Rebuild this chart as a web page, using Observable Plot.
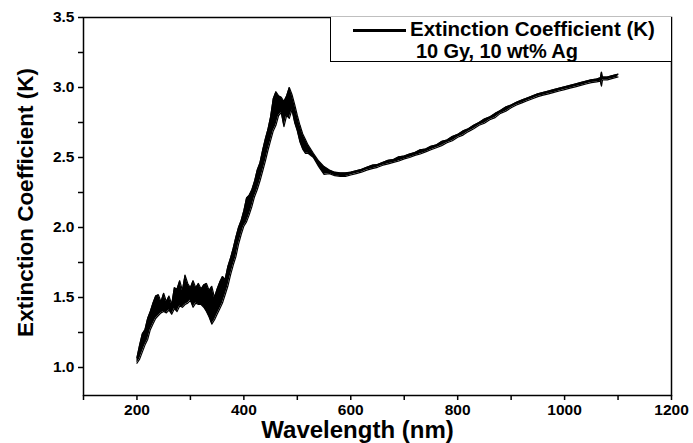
<!DOCTYPE html>
<html><head><meta charset="utf-8">
<script src="https://cdn.jsdelivr.net/npm/d3@7"></script>
<script src="https://cdn.jsdelivr.net/npm/@observablehq/plot@0.6"></script>
<style>
body{margin:0;background:#fff;font-family:"Liberation Sans",Arial,sans-serif}
#wrap{position:relative;width:693px;height:443px}
#legend{position:absolute;left:330px;top:17px;width:341px;height:45px;border-left:1px solid #000;border-bottom:1px solid #000;box-sizing:border-box;background:#fff;font-weight:bold;color:#000}
#legend .sw{position:absolute;left:22px;top:12px;width:53px;height:2.5px;background:#000}
#legend .t1{position:absolute;left:79px;top:0px;font-size:20.5px;white-space:nowrap;letter-spacing:0px}
#legend .t2{position:absolute;left:85px;top:23px;font-size:20px;white-space:nowrap;letter-spacing:-0.1px}
</style></head>
<body><div id="wrap"></div>
<script>
const seriesLabel = "Extinction Coefficient (K)";
const seriesNote = "10 Gy, 10 wt% Ag";
const xLabel = "Wavelength (nm)";
const yLabel = "Extinction Coefficient (K)";
const xTicks = [100,200,300,400,500,600,700,800,900,1000,1100,1200];
const yTicks = [1.0,1.25,1.5,1.75,2.0,2.25,2.5,2.75,3.0,3.25,3.5];

const wavelength = [200,205,210,215,220,225,230,235,240,245,250,255,260,265,270,275,280,285,290,295,
300,305,310,315,320,325,330,335,340,345,350,355,360,365,370,375,380,385,390,395,
400,405,410,415,420,425,430,435,440,445,450,455,460,465,470,475,480,485,490,495,
500,505,510,515,520,530,540,550,560,570,580,590,600,610,620,630,640,650,660,670,
680,690,700,710,720,730,740,750,760,770,780,790,800,810,820,830,840,850,860,870,
880,890,900,910,920,930,940,950,960,970,980,990,1000,1010,1020,1030,1040,1050,1060,1067,
1069,1071,1080,1090,1100];
const kUpper = [1.07,1.16,1.24,1.27,1.35,1.40,1.46,1.51,1.52,1.47,1.53,1.47,1.51,1.45,1.57,1.56,1.62,1.55,1.66,1.60,
1.57,1.62,1.57,1.60,1.56,1.59,1.60,1.55,1.58,1.50,1.56,1.61,1.65,1.63,1.72,1.78,1.85,1.93,2.00,2.05,
2.12,2.21,2.23,2.27,2.33,2.41,2.46,2.55,2.63,2.70,2.79,2.92,2.97,2.94,2.93,2.90,2.94,3.00,2.95,2.88,
2.80,2.73,2.67,2.63,2.59,2.53,2.475,2.435,2.41,2.395,2.39,2.39,2.395,2.405,2.415,2.43,2.445,2.45,2.465,2.48,
2.485,2.505,2.51,2.525,2.535,2.555,2.56,2.58,2.59,2.615,2.625,2.65,2.665,2.69,2.705,2.73,2.75,2.775,2.79,2.815,
2.835,2.86,2.875,2.895,2.91,2.925,2.94,2.955,2.965,2.975,2.985,2.995,3.005,3.015,3.025,3.035,3.045,3.055,3.06,3.07,
3.11,3.075,3.075,3.085,3.095];
const kLower = [1.03,1.06,1.11,1.16,1.20,1.27,1.31,1.35,1.37,1.39,1.40,1.39,1.41,1.38,1.42,1.40,1.44,1.43,1.45,1.46,
1.48,1.43,1.46,1.45,1.45,1.43,1.40,1.36,1.31,1.34,1.38,1.42,1.46,1.52,1.58,1.66,1.73,1.79,1.88,1.95,
2.01,2.04,2.09,2.15,2.22,2.27,2.33,2.40,2.47,2.55,2.62,2.69,2.73,2.80,2.82,2.72,2.80,2.78,2.84,2.75,
2.69,2.61,2.56,2.53,2.53,2.50,2.435,2.38,2.385,2.37,2.365,2.365,2.375,2.385,2.395,2.41,2.42,2.43,2.445,2.455,
2.465,2.475,2.49,2.50,2.515,2.525,2.54,2.555,2.57,2.585,2.605,2.62,2.645,2.66,2.685,2.705,2.73,2.745,2.77,2.785,
2.815,2.83,2.855,2.875,2.89,2.905,2.92,2.935,2.945,2.955,2.965,2.975,2.985,2.995,3.005,3.015,3.025,3.035,3.04,3.045,
3.01,3.055,3.055,3.065,3.075];

const table = wavelength.map((w,i)=>({w, lo:kLower[i], hi:kUpper[i]}));
const font = "Liberation Sans, Arial, sans-serif";

const chart = Plot.plot({
  width: 693, height: 443,
  marginTop: 17, marginBottom: 48, marginLeft: 83, marginRight: 22,
  style: {fontFamily: font, background: "#fff", color: "#000"},
  x: {domain: [100, 1200]},
  y: {domain: [0.8, 3.5]},
  marks: [
    Plot.areaY(table, {x: "w", y1: "lo", y2: "hi", fill: "#000", curve: "linear"}),
    Plot.line(table, {x: "w", y: "hi", stroke: "#000", strokeWidth: 1.2}),
    Plot.line(table, {x: "w", y: "lo", stroke: "#000", strokeWidth: 1.2}),
    Plot.frame({stroke: "#000", strokeWidth: 1.5}),
    Plot.axisX({ticks: xTicks, tickSize: 5, tickPadding: 3, tickFormat: d => d % 200 === 0 ? String(d) : "",
      fontSize: 15.5, fontWeight: "bold", label: null, strokeWidth: 1.5}),
    Plot.axisY({ticks: yTicks, tickSize: 5, tickPadding: 4, tickFormat: d => (d * 2) % 1 === 0 ? d.toFixed(1) : "",
      fontSize: 15.5, fontWeight: "bold", label: null, strokeWidth: 1.5}),
    Plot.text([yLabel], {text: d => d, frameAnchor: "left", textAnchor: "middle", lineAnchor: "middle", rotate: -90, dx: -58, dy: -4, fontSize: 22.5, fontWeight: "bold", fill: "#000"}),
    Plot.text([xLabel], {text: d => d, frameAnchor: "bottom", textAnchor: "middle", lineAnchor: "middle", dx: -20, dy: 35, fontSize: 24, fontWeight: "bold", fill: "#000"})
  ]
});
const wrap = document.getElementById("wrap");
wrap.appendChild(chart);
const leg = document.createElement("div");
leg.id = "legend";
leg.innerHTML = `<div class="sw"></div><div class="t1"></div><div class="t2"></div>`;
leg.querySelector(".t1").textContent = seriesLabel;
leg.querySelector(".t2").textContent = seriesNote;
wrap.appendChild(leg);
</script>
</body></html>
